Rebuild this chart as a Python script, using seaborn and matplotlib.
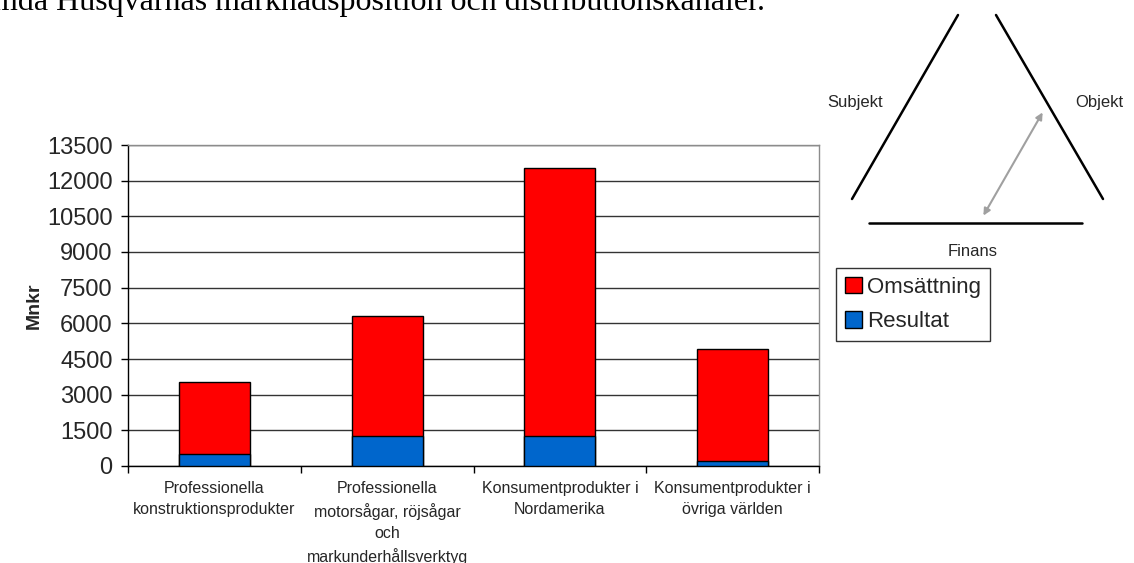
import matplotlib
matplotlib.use("Agg")
import matplotlib.pyplot as plt
from matplotlib.lines import Line2D
from matplotlib.patches import Patch, FancyArrowPatch
import seaborn as sns
import pandas as pd

# Segments, net sales and operating result per business area (MSEK)
categories = [
    "Professionella\nkonstruktionsprodukter",
    "Professionella\nmotorsågar, röjsågar\noch\nmarkunderhållsverktyg",
    "Konsumentprodukter i\nNordamerika",
    "Konsumentprodukter i\növriga världen",
]
omsattning = [3025, 5040, 11270, 4680]
resultat = [490, 1250, 1250, 220]
y_ticks = [0, 1500, 3000, 4500, 6000, 7500, 9000, 10500, 12000, 13500]

RED = "#FF0000"
BLUE = "#0066CC"

sns.set_theme(style="white")
plt.rcParams["font.family"] = ["Liberation Sans", "DejaVu Sans"]

W, H = 1134, 563
fig = plt.figure(figsize=(W / 100, H / 100), dpi=100)
ax = fig.add_axes([128 / W, 1 - 466 / H, (819 - 128) / W, (466 - 145) / H])

df = pd.DataFrame({
    "kategori": categories,
    "Omsättning": omsattning,
    "Resultat": resultat,
})
df["total"] = df["Omsättning"] + df["Resultat"]

# Stacked columns: full height in red, result segment in blue at the base
sns.barplot(data=df, x="kategori", y="total", color=RED, saturation=1,
            width=0.41, edgecolor="black", linewidth=1, ax=ax, zorder=3)
sns.barplot(data=df, x="kategori", y="Resultat", color=BLUE, saturation=1,
            width=0.41, edgecolor="black", linewidth=1, ax=ax, zorder=4)

ax.set_xlim(-0.5, len(categories) - 0.5)
ax.set_ylim(0, 13500)
ax.set_yticks(y_ticks)
ax.set_yticklabels([str(v) for v in y_ticks], fontsize=17)
ax.set_xlabel("")
ax.set_ylabel("Mnkr", fontsize=14, fontweight="bold", labelpad=3)

ax.set_xticks(range(len(categories)))
ax.set_xticklabels(categories, fontsize=11.5, linespacing=1.5)
ax.tick_params(axis="x", which="major", length=0, pad=11)
ax.set_xticks([i - 0.5 for i in range(len(categories) + 1)], minor=True)
ax.tick_params(axis="x", which="minor", length=5, width=1, color="black",
               direction="out", bottom=True)
ax.tick_params(axis="y", length=5, width=1, color="black", direction="out",
               left=True, pad=6)

ax.yaxis.grid(True, color="#333333", linewidth=1, zorder=0)
ax.set_axisbelow(True)
for side in ("top", "right"):
    ax.spines[side].set_color("#8C8C8C")
    ax.spines[side].set_linewidth(1)
for side in ("left", "bottom"):
    ax.spines[side].set_color("black")
    ax.spines[side].set_linewidth(1)

handles = [
    Patch(facecolor=RED, edgecolor="black", linewidth=1, label="Omsättning"),
    Patch(facecolor=BLUE, edgecolor="black", linewidth=1, label="Resultat"),
]
leg = fig.legend(handles=handles, loc="upper left",
                 bbox_to_anchor=(836 / W, 1 - 268 / H), fontsize=16,
                 frameon=True, fancybox=False, edgecolor="black",
                 handlelength=0.75, handleheight=0.75, handletextpad=0.25,
                 borderpad=0.4, labelspacing=0.6, borderaxespad=0)
leg.get_frame().set_linewidth(1)

# Overlay in pixel coordinates for the heading and the triangle sketch
ov = fig.add_axes([0, 0, 1, 1], zorder=5)
ov.set_xlim(0, W)
ov.set_ylim(H, 0)
ov.axis("off")
ov.patch.set_alpha(0)

ov.text(765, 10, "mda Husqvarnas marknadsposition och distributionskanaler.",
        fontsize=23, family=["Liberation Serif", "DejaVu Serif"],
        ha="right", va="baseline", color="black")

ov.add_line(Line2D([852, 958], [199, 15], color="black", linewidth=1.8))
ov.add_line(Line2D([996, 1103], [15, 199], color="black", linewidth=1.8))
ov.add_line(Line2D([869, 1082], [223, 223], color="black", linewidth=1.8))
ov.add_patch(FancyArrowPatch((982, 218), (1044, 110), arrowstyle="<|-|>",
                             mutation_scale=10, color="#A0A0A0", linewidth=1.5))
ov.text(855, 103, "Subjekt", fontsize=12, ha="center", va="center")
ov.text(1099, 103, "Objekt", fontsize=12, ha="center", va="center")
ov.text(973, 251, "Finans", fontsize=12, ha="center", va="center")

fig.savefig("out.png", dpi=100)
